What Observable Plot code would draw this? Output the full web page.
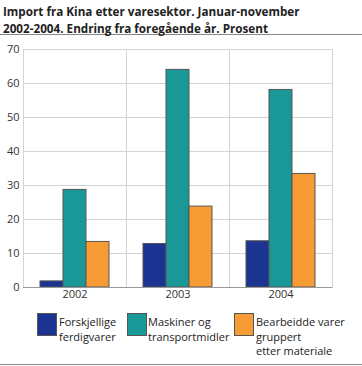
<!DOCTYPE html>
<html><head><meta charset="utf-8">
<script src="https://cdn.jsdelivr.net/npm/d3@7"></script>
<script src="https://cdn.jsdelivr.net/npm/@observablehq/plot@0.6"></script>
<style>
body{margin:0;background:#fff;font-family:"Open Sans",sans-serif;width:362px;height:366px;overflow:hidden;position:relative}
#title{font-weight:bold;font-size:11.7px;line-height:17px;color:#222;padding:3px 0 0 3px;height:31px;border-bottom:1px solid #888;width:359px}
#chart{position:absolute;top:36px;left:0}
#legend{position:absolute;top:313px;left:0;width:362px;font-size:11px;color:#222;line-height:14.5px}
.item{position:absolute;top:0}
.sw{position:absolute;top:0;width:20px;height:23px;box-sizing:border-box;border:1px solid #555}
.lt{position:absolute;top:2px;white-space:nowrap}
#bottom{position:absolute;top:364px;left:0;width:362px;border-top:1px solid #888}
</style></head>
<body>
<div id="title">Import fra Kina etter varesektor. Januar-november<br>2002-2004. Endring fra foregående år. Prosent</div>
<div id="chart"></div>
<div id="legend"></div>
<div id="bottom"></div>
<script>
const years = ["2002","2003","2004"];
const series = ["Forskjellige ferdigvarer","Maskiner og transportmidler","Bearbeidde varer gruppert etter materiale"];
const legendLines = [["Forskjellige","ferdigvarer"],["Maskiner og","transportmidler"],["Bearbeidde varer","gruppert","etter materiale"]];
const colors = ["#1b3391","#1a9797","#f79b34"];
const v2002 = [1.8, 28.7, 13.4];
const v2003 = [12.8, 64.0, 23.8];
const v2004 = [13.6, 58.1, 33.4];
const yTicks = [0,10,20,30,40,50,60,70];

const vals = [v2002, v2003, v2004];
const data = [];
years.forEach((y,i)=>series.forEach((s,j)=>data.push({year:y, series:s, value:vals[i][j]})));

const chart = Plot.plot({
  width: 362, height: 271,
  marginLeft: 22, marginRight: 29, marginTop: 13, marginBottom: 20,
  style: {fontFamily: '"Open Sans",sans-serif', fontSize: "11px", color: "#333"},
  fx: {domain: years, padding: 0, label: null, axis: "bottom", tickSize: 0, tickPadding: 3},
  x: {domain: series, paddingInner: 0, paddingOuter: 0.66, axis: null},
  y: {domain: [0,70], ticks: yTicks, label: null, tickSize: 0, tickPadding: 4},
  color: {domain: series, range: colors},
  marks: [
    Plot.gridY(yTicks, {stroke: "#d4d4d4", strokeOpacity: 1}),
    Plot.frame({stroke: "#d4d4d4"}),
    Plot.barY(data, {fx: "year", x: "series", y: "value", fill: "series", stroke: "#555", strokeWidth: 1}),
    Plot.ruleY([0], {stroke: "#999"})
  ]
});
document.getElementById("chart").appendChild(chart);

const lg = document.getElementById("legend");
const pos = [[37,59],[127,148],[234,256]];
series.forEach((s,i)=>{
  const sw = document.createElement("div"); sw.className="sw"; sw.style.left=pos[i][0]+"px"; sw.style.background=colors[i]; lg.appendChild(sw);
  const t = document.createElement("div"); t.className="lt"; t.style.left=pos[i][1]+"px"; t.innerHTML=legendLines[i].join("<br>"); lg.appendChild(t);
});
</script>
</body></html>
